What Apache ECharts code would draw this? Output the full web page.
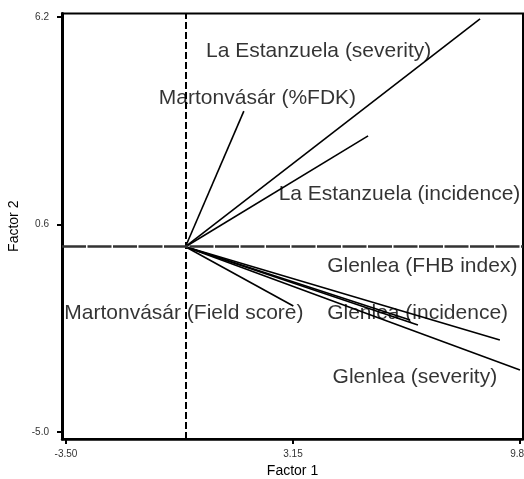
<!DOCTYPE html>
<html>
<head>
<meta charset="utf-8">
<script src="https://cdn.jsdelivr.net/npm/echarts@6/dist/echarts.min.js"></script>
<style>
html,body{margin:0;padding:0;background:#fff;}
#chart{width:524px;height:479px;}
</style>
</head>
<body>
<div id="chart"></div>
<script>
// Vector endpoints (Factor 1, Factor 2), all drawn from the origin
const vecX = [8.63, 1.71, 5.35, 3.16, 9.21, 6.81, 6.58, 9.80];
const vecY = [6.15, 3.66, 2.99, -1.60, -2.52, -2.11, -1.98, -3.33];

// Variable labels and their anchor positions (data units, left edge / middle)
const labelNames = [
  'La Estanzuela (severity)',
  'Martonvásár (%FDK)',
  'La Estanzuela (incidence)',
  'Glenlea (FHB index)',
  'Martonvásár (Field score)',
  'Glenlea (incidence)',
  'Glenlea (severity)'
];
const labelX = [0.60, -0.78, 2.73, 4.15, -3.55, 4.15, 4.31];
const labelY = [5.27, 4.01, 1.41, -0.52, -1.79, -1.79, -3.52];

// Axis tick values
const xTicks = [-3.50, 3.15, 9.80];
const yTicks = [-5.0, 0.6, 6.2];

const chart = echarts.init(document.getElementById('chart'), null, {renderer: 'canvas'});

const FONT = '"Liberation Sans", Arial, sans-serif';

const option = {
  animation: false,
  backgroundColor: '#fff',
  grid: {
    left: 62, right: 1, top: 13.5, bottom: 40,
    outerBoundsMode: 'none',
    containLabel: false,
    show: true, borderColor: '#000', borderWidth: 2, backgroundColor: 'transparent'
  },
  xAxis: {
    type: 'value',
    min: -3.617, max: 9.888,
    name: 'Factor 1',
    nameLocation: 'middle',
    nameGap: 25,
    nameTextStyle: {fontFamily: FONT, fontSize: 14, color: '#000'},
    splitLine: {show: false},
    axisLine: {show: true, onZero: false, lineStyle: {color: '#000', width: 2.5}},
    axisTick: {show: true, length: 5, inside: false, customValues: xTicks, lineStyle: {color: '#000', width: 2}},
    axisLabel: {
      show: true, customValues: xTicks, margin: 10,
      fontFamily: FONT, fontSize: 10, color: '#333',
      formatter: v => v.toFixed(2)
    }
  },
  yAxis: {
    type: 'value',
    min: -5.189, max: 6.294,
    name: 'Factor 2',
    nameLocation: 'middle',
    nameGap: 39,
    nameTextStyle: {fontFamily: FONT, fontSize: 14, color: '#000'},
    splitLine: {show: false},
    axisLine: {show: true, onZero: false, lineStyle: {color: '#000', width: 3}},
    axisTick: {show: true, length: 5, inside: false, customValues: yTicks, lineStyle: {color: '#000', width: 2}},
    axisLabel: {
      show: true, customValues: yTicks, margin: 13,
      fontFamily: FONT, fontSize: 10, color: '#333',
      formatter: v => v.toFixed(1)
    }
  },
  series: [
    {
      type: 'lines',
      coordinateSystem: 'cartesian2d',
      silent: true,
      lineStyle: {color: '#000', width: 1.6, opacity: 1},
      data: vecX.map((x, i) => ({coords: [[0, 0], [x, vecY[i]]]})),
      markLine: {
        silent: true,
        symbol: 'none',
        label: {show: false},
        data: [
          {xAxis: 0, lineStyle: {color: '#000', width: 2, type: [7, 3]}},
          {yAxis: 0, lineStyle: {color: '#333', width: 2.5, type: [24, 1.5]}}
        ]
      },
      z: 3
    },
    {
      type: 'scatter',
      silent: true,
      symbolSize: 0,
      data: labelNames.map((n, i) => ({name: n, value: [labelX[i], labelY[i]]})),
      label: {
        show: true,
        position: 'right',
        distance: 0,
        formatter: p => p.name,
        fontFamily: FONT,
        fontSize: 21,
        color: '#000',
        align: 'left',
        verticalAlign: 'middle'
      },
      z: 4
    }
  ]
};
chart.setOption(option);
</script>
</body>
</html>
